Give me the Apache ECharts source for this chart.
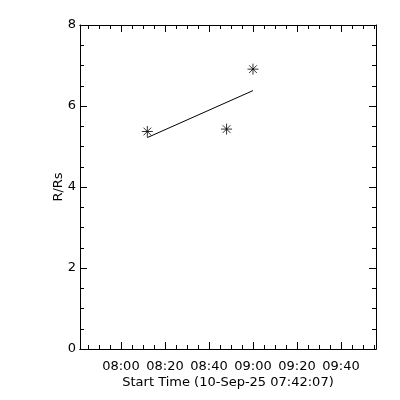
<!DOCTYPE html>
<html>
<head>
<meta charset="utf-8">
<script src="https://cdn.jsdelivr.net/npm/echarts@6/dist/echarts.min.js"></script>
<style>html,body{margin:0;padding:0;background:#fff}#c{width:400px;height:400px}</style>
</head>
<body>
<div id="c"></div>
<script>
// Data
var pointTimes = ["08:12", "08:48", "09:00"];
var pointValues = [5.37, 5.43, 6.91];
var fitTimes = ["08:12", "09:00"];
var fitValues = [5.22, 6.38];
var majorTickTimes = ["08:00", "08:20", "08:40", "09:00", "09:20", "09:40"];
var yTicks = [0, 2, 4, 6, 8];
var xStart = "07:41:24";
var xEnd = "09:55:54";
var xTitle = "Start Time (10-Sep-25 07:42:07)";
var yTitle = "R/Rs";

function toMin(s) {
  var p = s.split(":").map(Number);
  return (p[0] - 8) * 60 + p[1] + (p[2] || 0) / 60;
}
var xMin = toMin(xStart), xMax = toMin(xEnd);
var majors = majorTickTimes.map(toMin);
var minors = [];
for (var m = Math.ceil(xMin / 5) * 5; m <= xMax; m += 5) {
  if (majors.indexOf(m) < 0) minors.push(m);
}
function fmt(v) {
  var t = Math.round(v) + 480;
  var h = Math.floor(t / 60), mm = t % 60;
  return (h < 10 ? "0" : "") + h + ":" + (mm < 10 ? "0" : "") + mm;
}
var font = "DejaVu Sans";
var black = "#000";
function xAx(pos, vals, len, labels) {
  return {
    type: "value", position: pos, min: xMin, max: xMax,
    axisLine: { show: true, onZero: false, lineStyle: { color: black, width: 1 } },
    axisTick: { show: true, inside: true, length: len, customValues: vals, lineStyle: { color: black } },
    axisLabel: labels ? { show: true, customValues: majors, formatter: fmt, color: black, fontFamily: font, fontSize: 13, margin: 11 } : { show: false },
    splitLine: { show: false },
    name: labels ? xTitle : "", nameLocation: "middle", nameGap: 27, nameMoveOverlap: false,
    nameTextStyle: { color: black, fontFamily: font, fontSize: 13 }
  };
}
function yAx(pos, labels) {
  return {
    type: "value", position: pos, min: yTicks[0], max: yTicks[yTicks.length - 1], interval: 2,
    axisLine: { show: true, onZero: false, lineStyle: { color: black, width: 1 } },
    axisTick: { show: true, inside: true, length: 7, lineStyle: { color: black } },
    minorTick: { show: true, splitNumber: 4, length: 4, lineStyle: { color: black } },
    axisLabel: labels ? { show: true, color: black, fontFamily: font, fontSize: 13, margin: 4 } : { show: false },
    splitLine: { show: false },
    name: labels ? yTitle : "", nameLocation: "middle", nameGap: 15, nameRotate: 90, nameMoveOverlap: false,
    nameTextStyle: { color: black, fontFamily: font, fontSize: 13 }
  };
}
var chart = echarts.init(document.getElementById("c"), null, { renderer: "canvas" });
chart.setOption({
  animation: false,
  backgroundColor: "#fff",
  grid: { left: 80, top: 25, width: 296, height: 324 },
  xAxis: [xAx("bottom", majors, 7, true), xAx("bottom", minors, 4, false), xAx("top", majors, 7, false), xAx("top", minors, 4, false)],
  yAxis: [yAx("left", true), yAx("right", false)],
  series: [
    {
      type: "scatter", xAxisIndex: 0, yAxisIndex: 0,
      symbol: "path://M0,-1L0,1M-1,0L1,0M-0.7,-0.7L0.7,0.7M-0.7,0.7L0.7,-0.7",
      symbolSize: 11,
      itemStyle: { color: "none", borderColor: black, borderWidth: 1 },
      data: pointTimes.map(function (t, i) { return [toMin(t), pointValues[i]]; })
    },
    {
      type: "line", xAxisIndex: 0, yAxisIndex: 0, showSymbol: false, symbol: "none",
      lineStyle: { color: black, width: 1 },
      data: fitTimes.map(function (t, i) { return [toMin(t), fitValues[i]]; })
    }
  ]
});
</script>
</body>
</html>
